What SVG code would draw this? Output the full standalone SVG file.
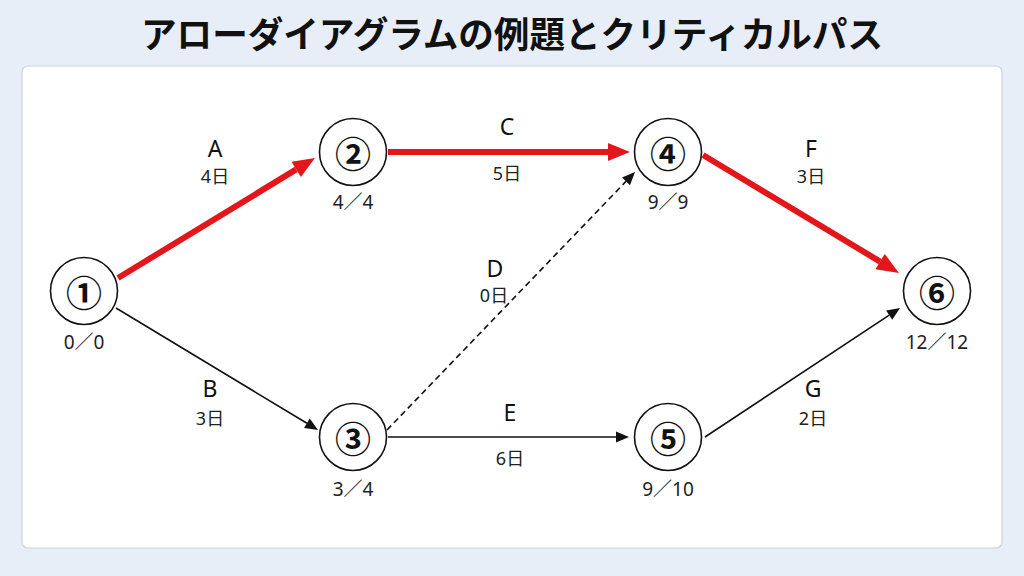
<svg xmlns="http://www.w3.org/2000/svg" width="1024" height="576" viewBox="0 0 1024 576">
<defs>
<style>
.title{font-family:"Noto Sans CJK JP","Noto Sans",sans-serif;font-weight:700;font-size:36px;fill:#111;}
.node circle{fill:#fff;stroke:#111;stroke-width:1.6;}
.num{font-family:"Noto Sans CJK JP","Noto Sans",sans-serif;font-weight:700;font-size:36px;fill:#111;text-anchor:middle;dominant-baseline:central;}
.sub{font-family:"Noto Sans","Noto Sans CJK JP",sans-serif;font-size:19px;fill:#222;text-anchor:middle;dominant-baseline:central;}
.act{font-family:"Noto Sans","Noto Sans CJK JP",sans-serif;font-size:23px;fill:#111;text-anchor:middle;dominant-baseline:central;}
.dur{font-family:"Noto Sans","Noto Sans CJK JP",sans-serif;font-size:18px;fill:#222;text-anchor:middle;dominant-baseline:central;}
.crit{stroke:#E3161B;stroke-width:6;fill:none;marker-end:url(#ah-red);}
.norm{stroke:#111;stroke-width:1.6;fill:none;marker-end:url(#ah-black);}
.dummy{stroke:#111;stroke-width:1.6;fill:none;stroke-dasharray:6 4;marker-end:url(#ah-black);}
</style>
<marker id="ah-red" markerUnits="userSpaceOnUse" markerWidth="22" markerHeight="18" refX="0" refY="9" orient="auto" overflow="visible">
<path d="M0,0 L22,9 L0,18 z" fill="#E3161B"/>
</marker>
<marker id="ah-black" markerUnits="userSpaceOnUse" markerWidth="13" markerHeight="11" refX="0" refY="5.5" orient="auto" overflow="visible">
<path d="M0,0 L13,5.5 L0,11 z" fill="#111"/>
</marker>
</defs>
<rect x="0" y="0" width="1024" height="576" fill="#E8EEF8"/>
<text class="title" x="512" y="48" text-anchor="middle" textLength="742" lengthAdjust="spacingAndGlyphs">アローダイアグラムの例題とクリティカルパス</text>
<rect x="22" y="66" width="980" height="482" rx="6" fill="#fff" stroke="#CCD3DD" stroke-width="1.2"/>
<g id="connectors">
<line id="edge-A" class="crit" x1="118" y1="278" x2="296.2" y2="169.4"/>
<line id="edge-C" class="crit" x1="388" y1="152" x2="608" y2="152"/>
<line id="edge-F" class="crit" x1="703" y1="155" x2="880.1" y2="261.6"/>
<line id="edge-B" class="norm" x1="116" y1="308" x2="306.9" y2="423.3"/>
<line id="edge-D" class="dummy" x1="387" y1="430" x2="626" y2="181.4"/>
<line id="edge-E" class="norm" x1="388" y1="437" x2="616" y2="437"/>
<line id="edge-G" class="norm" x1="705" y1="437" x2="889.2" y2="315.2"/>
<text class="act" x="215" y="148">A</text><text class="dur" x="215" y="176">4日</text>
<text class="act" x="507" y="126">C</text><text class="dur" x="507" y="173">5日</text>
<text class="act" x="811" y="148">F</text><text class="dur" x="811" y="176">3日</text>
<text class="act" x="495" y="268">D</text><text class="dur" x="494" y="295">0日</text>
<text class="act" x="210" y="388">B</text><text class="dur" x="210" y="418">3日</text>
<text class="act" x="510" y="412">E</text><text class="dur" x="510" y="458">6日</text>
<text class="act" x="813" y="388">G</text><text class="dur" x="813" y="418">2日</text>
</g>
<g id="node1" class="node"><circle cx="84" cy="291" r="33.5"/><text class="num" x="84" y="291">①</text><text class="sub" x="84" y="342">0／0</text></g>
<g id="node2" class="node"><circle cx="353" cy="152" r="33.5"/><text class="num" x="353" y="152">②</text><text class="sub" x="353" y="202">4／4</text></g>
<g id="node3" class="node"><circle cx="353" cy="437" r="33.5"/><text class="num" x="353" y="437">③</text><text class="sub" x="353" y="489">3／4</text></g>
<g id="node4" class="node"><circle cx="668" cy="152" r="33.5"/><text class="num" x="668" y="152">④</text><text class="sub" x="668" y="202">9／9</text></g>
<g id="node5" class="node"><circle cx="668" cy="437" r="33.5"/><text class="num" x="668" y="437">⑤</text><text class="sub" x="668" y="489">9／10</text></g>
<g id="node6" class="node"><circle cx="937" cy="291" r="33.5"/><text class="num" x="937" y="291">⑥</text><text class="sub" x="937" y="342">12／12</text></g>
</svg>
